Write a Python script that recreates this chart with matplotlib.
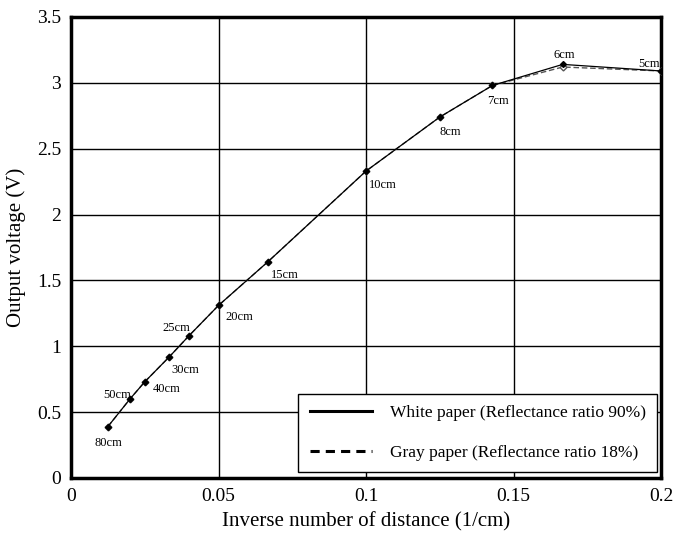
import matplotlib
matplotlib.use("Agg")
import matplotlib.pyplot as plt
from matplotlib.lines import Line2D

plt.rcParams['font.family'] = ['Liberation Serif', 'DejaVu Serif']

distances = ["80cm", "50cm", "40cm", "30cm", "25cm", "20cm", "15cm", "10cm", "8cm", "7cm", "6cm", "5cm"]
inv_dist = [1/80, 1/50, 1/40, 1/30, 1/25, 1/20, 1/15, 1/10, 1/8, 1/7, 1/6, 1/5]
white_v = [0.39, 0.60, 0.73, 0.92, 1.08, 1.31, 1.64, 2.33, 2.74, 2.98, 3.14, 3.09]
gray_v = [0.39, 0.60, 0.73, 0.92, 1.08, 1.31, 1.64, 2.33, 2.74, 2.98, 3.12, 3.09]
label_offsets = [(0, -16), (-13, 4), (8, -7), (2, -13), (-13, 8), (7, -12), (3, -13), (3, -14), (0, -15), (-5, -16), (2, 9), (-12, 7)]
label_ha = ["center", "center", "left", "left", "center", "left", "left", "left", "left", "left", "center", "center"]

fig = plt.figure(figsize=(6.73, 5.37), dpi=100)
ax = fig.add_axes([0.1055, 0.1099, 0.8767, 0.8585])

ax.plot(inv_dist, gray_v, color='#555555', linestyle=(0, (4, 2)), linewidth=1.0,
        marker='D', markersize=3.5, markerfacecolor='white', markeredgecolor='#555555', zorder=3)
ax.plot(inv_dist, white_v, color='black', linestyle='-', linewidth=0.9,
        marker='D', markersize=3, markerfacecolor='black', markeredgecolor='black', zorder=4)

for lbl, x, y, off, ha in zip(distances, inv_dist, white_v, label_offsets, label_ha):
    ax.annotate(lbl, (x, y), xytext=off, textcoords='offset pixels', ha=ha, va='center', fontsize=9)

ax.set_xlim(0, 0.2)
ax.set_ylim(0, 3.5)
ax.set_xticks([0, 0.05, 0.1, 0.15, 0.2])
ax.set_xticklabels(["0", "0.05", "0.1", "0.15", "0.2"])
ax.set_yticks([0, 0.5, 1, 1.5, 2, 2.5, 3, 3.5])
ax.set_yticklabels(["0", "0.5", "1", "1.5", "2", "2.5", "3", "3.5"])
ax.tick_params(direction='in', labelsize=14, length=0, pad=7)
ax.grid(True, color='black', linewidth=1.0)
ax.set_axisbelow(True)
for s in ax.spines.values():
    s.set_linewidth(2.5)

ax.set_xlabel("Inverse number of distance (1/cm)", fontsize=15, labelpad=5)
ax.set_ylabel("Output voltage (V)", fontsize=15, labelpad=8)

handles = [Line2D([0], [0], color='black', linewidth=2.2),
           Line2D([0], [0], color='black', linewidth=2.2, linestyle=(0, (3, 2)))]
leg = ax.legend(handles, ["White paper (Reflectance ratio 90%)", "Gray paper (Reflectance ratio 18%)"],
                loc='lower right', bbox_to_anchor=(0.993, 0.013), borderaxespad=0,
                fancybox=False, framealpha=1,
                edgecolor='black', fontsize=12.5, handlelength=3.6, labelspacing=1.35,
                borderpad=0.65, handletextpad=1.0)
leg.get_frame().set_linewidth(1.0)

fig.savefig("out.png", dpi=100)
